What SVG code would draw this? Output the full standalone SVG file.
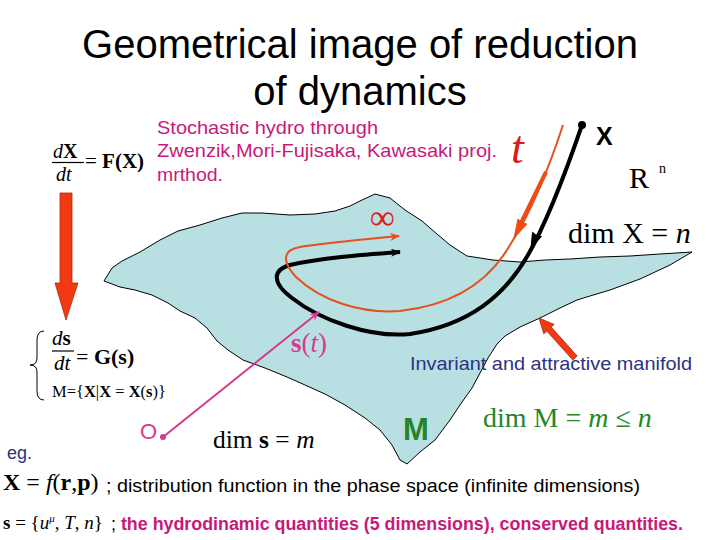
<svg xmlns="http://www.w3.org/2000/svg" width="720" height="540" viewBox="0 0 720 540">
<defs>
<style>
.sans{font-family:"Liberation Sans",Arial,sans-serif}
.serif{font-family:"Liberation Serif","Times New Roman",serif}
.pink{fill:#C8197A}
.navy{fill:#2B3282}
.green{fill:#24862A}
</style>
<marker id="ah-black" markerWidth="10" markerHeight="8" refX="9" refY="4" orient="auto" markerUnits="userSpaceOnUse">
<path d="M0,0 L10,4 L0,8 L3,4 Z" fill="#000"/>
</marker>
<marker id="ah-orange" markerWidth="10" markerHeight="8" refX="9" refY="4" orient="auto" markerUnits="userSpaceOnUse">
<path d="M0,0 L10,4 L0,8 L3,4 Z" fill="#E4501E"/>
</marker>
<marker id="ah-pink" markerWidth="10" markerHeight="8" refX="9" refY="4" orient="auto" markerUnits="userSpaceOnUse">
<path d="M0,0 L10,4 L0,8 L3,4 Z" fill="#D63A8E"/>
</marker>
</defs>
<rect width="720" height="540" fill="#fff"/>

<g id="title" class="sans" font-size="40" text-anchor="middle" fill="#000">
<text x="360" y="58">Geometrical image of reduction</text>
<text x="360" y="105">of dynamics</text>
</g>

<g id="manifold">
<path d="M104,281 L112,268 L122,261 L140,252 L160,240 L178,231 L200,225 L222,218 L242,213 L262,213 L290,215 L315,214 L335,211 L350,206 L362,200 L375,194 L390,198 L405,210 L422,221 L437,234 L450,245 L467,256 L493,260 L520,262 L545,260 L570,259 L600,257 L630,256 L660,254 L692,252 L670,265 L640,279 L610,290 L590,296 L577,300 L560,308 L540,318 L520,327 L505,336 L497,344 L488,358 L480,373 L472,388 L462,402 L450,420 L435,440 L420,452 L407,464 L400,460 L392,445 L380,430 L365,418 L345,405 L325,394 L305,385 L287,377 L265,368 L243,360 L228,350 L217,341 L207,328 L195,318 L180,311 L168,303 L152,295 L135,290 L120,287 Z" fill="#B8DFE2" stroke="#000" stroke-width="1"/>
</g>

<g id="connectors" fill="none">
<path id="black-traj" d="M582,125 C570,160 548,220 528,255 C505,295 470,325 410,334 C370,338 320,320 292,298 C272,283 272,270 290,265 C320,258 360,255 400,252" stroke="#000" stroke-width="4" marker-end="url(#ah-black)"/>
<polygon points="531,248 541.5,236.5 537,236 532.5,232.2" fill="#000" stroke="#000" stroke-width="1"/>
<path id="orange-traj" d="M563,125 C550,165 530,215 510,245 C490,280 455,305 400,311 C360,314 320,300 296,277 C282,262 282,250 300,247 C330,242 360,240 399,236" stroke="#E4501E" stroke-width="2" marker-end="url(#ah-orange)"/>
<path d="M546,172 L520,225" stroke="#F04A14" stroke-width="4"/>
<polygon points="514,238 527,224 522,223 518,219" fill="#F04A14" stroke="#F04A14" stroke-width="1"/>
<path id="pink-arrow" d="M163,437 L319,312" stroke="#D63A8E" stroke-width="2" marker-end="url(#ah-pink)"/>
<circle cx="163" cy="437" r="3" fill="#D63A8E"/>
<circle cx="582" cy="125" r="4" fill="#000"/>
<polygon id="left-arrow" points="60,193 72,193 72,283 78,283 66,320 55,283 60,283" fill="#F23A12" stroke="#B02A10" stroke-width="0.8"/>
<polygon id="manifold-arrow" points="539,318 554.2,324.4 551.2,327.1 577.2,356 572.8,360 546.8,331.1 543.8,333.8" fill="#F23A12" stroke="#A82810" stroke-width="0.8"/>
</g>

<g id="eq-X" class="serif" fill="#000">
<text x="53" y="158" font-size="20"><tspan font-style="italic">d</tspan><tspan font-weight="bold">X</tspan></text>
<line x1="52" y1="162.5" x2="84" y2="162.5" stroke="#000" stroke-width="1.2"/>
<text x="56" y="181" font-size="20" font-style="italic">dt</text>
<text x="85" y="168" font-size="21">= <tspan font-weight="bold">F(X)</tspan></text>
</g>

<g id="eq-s" class="serif" fill="#000">
<path d="M44,331 Q37,331 37,340 L37,358 Q37,365 30,365 Q37,365 37,372 L37,391 Q37,400 44,400" fill="none" stroke="#000" stroke-width="1"/>
<text x="52" y="345" font-size="21"><tspan font-style="italic">d</tspan><tspan font-weight="bold">s</tspan></text>
<line x1="52" y1="351" x2="74" y2="351" stroke="#000" stroke-width="1.2"/>
<text x="54" y="370" font-size="21" font-style="italic">dt</text>
<text x="76" y="364" font-size="22">= <tspan font-weight="bold">G(s)</tspan></text>
<text x="52" y="397" font-size="16.5">M={<tspan font-weight="bold">X</tspan>|<tspan font-weight="bold">X</tspan> = <tspan font-weight="bold">X</tspan>(<tspan font-weight="bold">s</tspan>)}</text>
</g>

<g id="stochastic" class="sans pink" font-size="18.5">
<text x="157" y="134" textLength="221" lengthAdjust="spacingAndGlyphs">Stochastic hydro through</text>
<text x="157" y="157" textLength="340" lengthAdjust="spacingAndGlyphs">Zwenzik,Mori-Fujisaka, Kawasaki proj.</text>
<text x="157" y="181" textLength="66" lengthAdjust="spacingAndGlyphs">mrthod.</text>
</g>

<g id="labels-top">
<text x="511" y="163" class="serif" font-size="46" font-style="italic" fill="#E01818">t</text>
<text x="596" y="145" class="sans" font-size="25" font-weight="bold" fill="#000">X</text>
<text x="629" y="188" class="serif" font-size="30" fill="#000">R</text>
<text x="659" y="173" class="serif" font-size="14" fill="#000">n</text>
<text x="568" y="243" class="serif" font-size="30" fill="#000">dim X = <tspan font-style="italic">n</tspan></text>
<text x="370" y="229" class="serif" font-size="35" fill="#E01818">∞</text>
</g>

<g id="labels-manifold">
<text x="291" y="352" class="serif" font-size="27" fill="#D63A8E"><tspan font-weight="bold">s</tspan>(<tspan font-style="italic">t</tspan>)</text>
<text x="410" y="370" class="sans navy" font-size="18.5" textLength="282" lengthAdjust="spacingAndGlyphs">Invariant and attractive manifold</text>
<text x="140" y="439" class="sans" font-size="22" fill="#D63A8E">O</text>
<text x="213" y="448" class="serif" font-size="25.5" fill="#000">dim <tspan font-weight="bold">s</tspan> = <tspan font-style="italic">m</tspan></text>
<text x="403" y="440" class="sans green" font-size="31" font-weight="bold">M</text>
<text x="483" y="427" class="serif green" font-size="28">dim M = <tspan font-style="italic">m</tspan> ≤ <tspan font-style="italic">n</tspan></text>
</g>

<g id="bottom">
<text x="7" y="459" class="sans navy" font-size="18">eg.</text>
<text x="3" y="490" class="serif" font-size="24" fill="#000"><tspan font-weight="bold">X</tspan> = <tspan font-style="italic">f</tspan>(<tspan font-weight="bold">r</tspan>,<tspan font-weight="bold">p</tspan>)</text>
<text x="106" y="492" class="sans" font-size="18.5" fill="#000" textLength="534" lengthAdjust="spacingAndGlyphs">; distribution function in the phase space (infinite dimensions)</text>
<text x="3" y="529" class="serif" font-size="19" fill="#000"><tspan font-weight="bold">s</tspan> = {<tspan font-style="italic">u</tspan><tspan font-size="11" dy="-7" font-style="italic">μ</tspan><tspan dy="7">, </tspan><tspan font-style="italic">T</tspan>, <tspan font-style="italic">n</tspan>}</text>
<text x="111" y="530" class="sans" font-size="18" fill="#000" textLength="572" lengthAdjust="spacingAndGlyphs">; <tspan class="pink" font-weight="bold">the hydrodinamic quantities (5 dimensions), conserved quantities.</tspan></text>
</g>
</svg>
